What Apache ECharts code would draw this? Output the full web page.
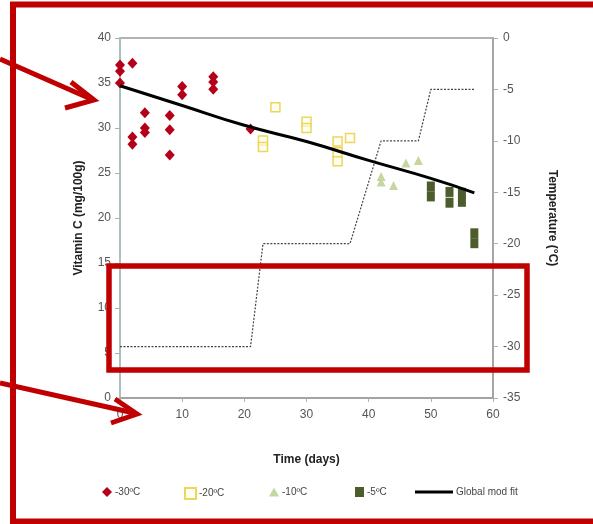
<!DOCTYPE html>
<html><head><meta charset="utf-8">
<script src="https://cdn.jsdelivr.net/npm/echarts@6/dist/echarts.min.js"></script>
<style>html,body{margin:0;padding:0;background:#fff}#c{width:593px;height:524px}</style>
</head><body><div id="c"></div>
<script>
// ---- data ----
const m30Days = [0,0,0,2,2,2,4,4,4,8,8,8,10,10,15,15,15,21];
const m30Vals = [37,36.3,35,37.2,29,28.2,31.7,30,29.5,31.4,29.8,27,34.6,33.7,35.7,35.1,34.3,29.9];
const m20Days = [23,23,25,30,30,35,35,35,37];
const m20Vals = [28.6,27.9,32.3,30.7,30,28.5,27.3,26.3,28.9];
const m10Days = [42,42,44,46,48];
const m10Vals = [24.6,24,23.6,26.1,26.4];
const m5Days = [50,50,53,53,55,55,57,57];
const m5Vals = [23.5,22.4,22.9,21.7,22.8,21.8,18.3,17.2];
const fitDays = [0,10,20,30,40,50,57];
const fitVals = [34.7,32.5,30.3,28.5,26.4,24.4,22.8];
const tempDays = [0,21,23,37,42,48,50,57];
const tempVals = [-30,-30,-20,-20,-10,-10,-5,-5];
const seriesNames = ['-30ºC','-20ºC','-10ºC','-5ºC','Global mod fit'];

const pairs = (a,b) => a.map((d,i)=>[d,b[i]]);
const lblFont = "'Liberation Sans Narrow','Liberation Sans',Arial,sans-serif";
const titleFont = "'Liberation Sans',Arial,sans-serif";

const chart = echarts.init(document.getElementById('c'), null, {renderer:'canvas'});

function legendAt(item, left, iw, ih){
  return {data:[item], left:left, top:482, itemWidth:iw, itemHeight:ih, itemGap:0,
    textStyle:{fontSize:10, color:'#444', fontFamily:lblFont, padding:[0,0,0,-2]},
    selectedMode:false};
}

const red = '#c00000';
chart.setOption({
  animation:false,
  backgroundColor:'#ffffff',
  grid:{left:120, right:100, top:38, bottom:126, show:true, borderColor:'#9a9a9a', borderWidth:1.5, backgroundColor:'transparent'},
  legend:[
    legendAt(seriesNames[0], 97, 10, 10),
    legendAt(seriesNames[1], 179, 11, 11),
    legendAt(seriesNames[2], 264, 10, 9),
    legendAt(seriesNames[3], 350, 9, 10),
    legendAt({name:seriesNames[4], icon:'rect'}, 410, 38, 3)
  ],
  xAxis:{type:'value', min:0, max:60, interval:10,
    name:'Time (days)', nameLocation:'middle', nameGap:56,
    nameTextStyle:{fontSize:12, fontWeight:'bold', color:'#222', fontFamily:titleFont},
    axisLine:{show:true, lineStyle:{color:'#a0a0a0', width:1.5}},
    axisTick:{show:true, inside:false, length:4, lineStyle:{color:'#b0b0b0'}},
    axisLabel:{fontSize:12, color:'#555', margin:11, fontFamily:lblFont},
    splitLine:{show:false}},
  yAxis:[
    {type:'value', min:0, max:40, interval:5, position:'left',
     name:'Vitamin C (mg/100g)', nameLocation:'middle', nameGap:35, nameRotate:90,
     nameTextStyle:{fontSize:12, fontWeight:'bold', color:'#222', fontFamily:titleFont},
     axisLine:{show:true, lineStyle:{color:'#a9c4c4', width:1.5}},
     axisTick:{show:true, length:5, lineStyle:{color:'#b0b0b0'}},
     axisLabel:{fontSize:12, color:'#555', margin:9, fontFamily:lblFont},
     splitLine:{show:false}},
    {type:'value', min:-35, max:0, interval:5, position:'right',
     name:'Temperature (°C)', nameLocation:'middle', nameGap:53, nameRotate:-90,
     nameTextStyle:{fontSize:12, fontWeight:'bold', color:'#222', fontFamily:titleFont},
     axisLine:{show:true, lineStyle:{color:'#a0a0a0', width:1.5}},
     axisTick:{show:true, length:5, lineStyle:{color:'#b0b0b0'}},
     axisLabel:{fontSize:12, color:'#555', margin:10, fontFamily:lblFont},
     splitLine:{show:false}}
  ],
  series:[
    {name:'temp', type:'line', yAxisIndex:1, data:pairs(tempDays,tempVals), showSymbol:false, symbol:'none',
     lineStyle:{color:'#444', width:1.2, type:[2,1.5]}, z:1, silent:true},
    {name:seriesNames[4], type:'line', data:pairs(fitDays,fitVals), showSymbol:false, symbol:'none',
     smooth:true, lineStyle:{color:'#000', width:3}, itemStyle:{color:'#000'}, z:5},
    {name:seriesNames[0], type:'scatter', data:pairs(m30Days,m30Vals), symbol:'diamond', symbolSize:[10,11],
     itemStyle:{color:'#b40018', opacity:1}, z:3},
    {name:seriesNames[1], type:'scatter', data:pairs(m20Days,m20Vals), symbol:'rect', symbolSize:9,
     itemStyle:{color:'rgba(255,255,230,0.6)', borderColor:'#ecd660', borderWidth:1.5, opacity:1}, z:3},
    {name:seriesNames[2], type:'scatter', data:pairs(m10Days,m10Vals), symbol:'triangle', symbolSize:[9,9],
     itemStyle:{color:'#c5d6a2', opacity:1}, z:3},
    {name:seriesNames[3], type:'scatter', data:pairs(m5Days,m5Vals), symbol:'rect', symbolSize:[8,10],
     itemStyle:{color:'#4d5c2c', opacity:1}, z:3}
  ],
  graphic:[
    {type:'rect', z:100, silent:true, shape:{x:13, y:4.5, width:620, height:517},
     style:{fill:null, stroke:red, lineWidth:6}},
    {type:'polyline', z:100, silent:true, shape:{points:[[0,59],[91,99]]}, style:{stroke:red, lineWidth:5, fill:null}},
    {type:'polyline', z:100, silent:true, shape:{points:[[71,82],[94,100],[65,108]]}, style:{stroke:red, lineWidth:5, fill:null, lineJoin:'miter'}},
    {type:'polyline', z:100, silent:true, shape:{points:[[0,383],[134,413]]}, style:{stroke:red, lineWidth:5, fill:null}},
    {type:'polyline', z:100, silent:true, shape:{points:[[115,399],[137,414],[111,423]]}, style:{stroke:red, lineWidth:5, fill:null, lineJoin:'miter'}},
    {type:'rect', z:100, silent:true, shape:{x:109, y:266, width:418, height:104},
     style:{fill:null, stroke:red, lineWidth:5.5}}
  ]
});
</script></body></html>
